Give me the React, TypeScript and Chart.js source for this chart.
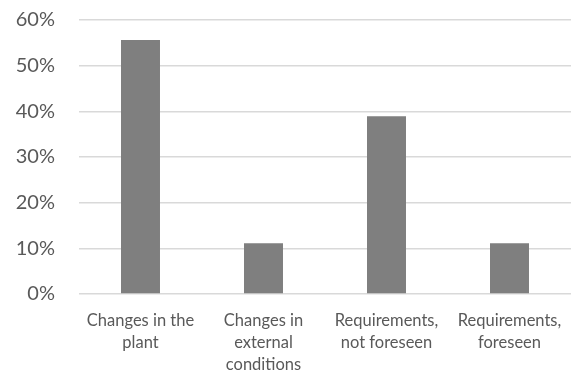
import React, { useEffect, useRef } from "react";
import { Chart, registerables } from "chart.js";

Chart.register(...registerables);

const categories: string[][] = [
  ["Changes in the", "plant"],
  ["Changes in", "external", "conditions"],
  ["Requirements,", "not foreseen"],
  ["Requirements,", "foreseen"],
];
const values: number[] = [55.6, 11.1, 38.9, 11.1];
const yTicks: number[] = [0, 10, 20, 30, 40, 50, 60];

export default function App() {
  const ref = useRef<HTMLCanvasElement>(null);
  useEffect(() => {
    document.body.style.margin = "0";
    const ctx = ref.current!;
    const chart = new Chart(ctx, {
      type: "bar",
      data: {
        labels: categories,
        datasets: [
          {
            data: values,
            backgroundColor: "#7f7f7f",
            barPercentage: 0.317,
            categoryPercentage: 1,
          },
        ],
      },
      options: {
        animation: false,
        responsive: false,
        layout: { padding: { top: 20, right: 0, left: 0, bottom: 0 } },
        plugins: { legend: { display: false }, tooltip: { enabled: false } },
        scales: {
          x: {
            grid: { display: false },
            border: { display: false },
            ticks: {
              color: "#595959",
              font: { family: "Lato", size: 16.5, lineHeight: 1.33 },
              padding: 8,
              maxRotation: 0,
              autoSkip: false,
            },
            afterFit: (s: any) => {
              s.height = 80;
              s.paddingLeft = 0;
              s.paddingRight = 0;
            },
          },
          y: {
            min: 0,
            max: 60,
            afterBuildTicks: (s: any) => {
              s.ticks = yTicks.map((v) => ({ value: v }));
            },
            grid: { color: "#d9d9d9", lineWidth: 1.5, drawTicks: false },
            border: { display: false },
            ticks: {
              color: "#595959",
              font: { family: "Lato", size: 20 },
              padding: 24,
              callback: (v: any) => v + "%",
            },
            afterFit: (s: any) => {
              s.width = 79;
              s.paddingTop = 0;
              s.paddingBottom = 0;
            },
          },
        },
      },
    });
    return () => chart.destroy();
  }, []);
  return (
    <div style={{ width: 571, height: 374 }}>
      <canvas ref={ref} width={571} height={374} />
    </div>
  );
}
